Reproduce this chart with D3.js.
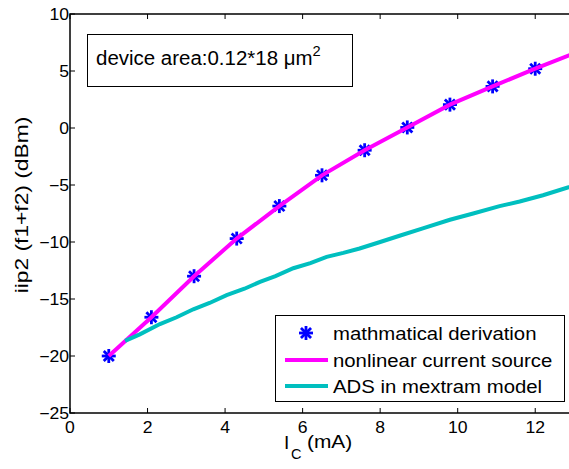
<!DOCTYPE html>
<html>
<head>
<meta charset="utf-8">
<script src="https://cdn.jsdelivr.net/npm/d3@7"></script>
<style>
body{margin:0;background:#fff;}
text{font-family:"Liberation Sans",Arial,sans-serif;fill:#000;}
</style>
</head>
<body>
<div class="chart"></div>
<script>
// data
var derivX = [1, 2.1, 3.2, 4.3, 5.4, 6.5, 7.6, 8.7, 9.8, 10.9, 12.0];
var derivY = [-20, -16.6, -13.0, -9.7, -6.85, -4.15, -1.95, 0.05, 2.05, 3.65, 5.2];
var nlcsX = [1, 2.1, 3.2, 4.3, 5.4, 6.5, 7.6, 8.7, 9.8, 10.9, 12.0, 13.0];
var nlcsY = [-20, -16.6, -13.0, -9.7, -6.85, -4.15, -1.95, 0.05, 2.05, 3.65, 5.2, 6.55];
var adsX = [1.42, 1.8, 2.32, 2.75, 3.18, 3.6, 4.04, 4.5, 4.9, 5.3, 5.76, 6.2, 6.62, 7.05, 7.47, 8.0, 8.5, 9.1, 9.8, 10.4, 11.08, 11.6, 12.2, 12.86, 13.0];
var adsY = [-18.67, -18.1, -17.2, -16.6, -15.9, -15.35, -14.66, -14.1, -13.5, -13.0, -12.3, -11.85, -11.3, -10.95, -10.57, -10.0, -9.45, -8.8, -8.05, -7.5, -6.85, -6.45, -5.9, -5.2, -5.1];
var xTicks = [0, 2, 4, 6, 8, 10, 12];
var yTicks = [-25, -20, -15, -10, -5, 0, 5, 10];
var legendLabels = ["mathmatical derivation", "nonlinear current source", "ADS in mextram model"];

var W = 569, H = 469;
var svg = d3.select("div.chart").append("svg")
    .attr("width", W)
    .attr("height", H);

var x = d3.scaleLinear().domain([0, 13]).range([70, 574]);
var y = d3.scaleLinear().domain([-25, 10]).range([413, 14]);

function minus(v){ return v < 0 ? "\u2212" + Math.abs(v) : "" + v; }

// ticks (inward, on all four sides)
var tl = 5;
svg.append("g").selectAll("line.xt").data(xTicks).enter().append("line")
    .attr("x1", d => x(d)).attr("x2", d => x(d))
    .attr("y1", y(-25)).attr("y2", y(-25) - tl)
    .attr("stroke", "#000").attr("stroke-width", 1);
svg.append("g").selectAll("line.xt2").data(xTicks).enter().append("line")
    .attr("x1", d => x(d)).attr("x2", d => x(d))
    .attr("y1", y(10)).attr("y2", y(10) + tl)
    .attr("stroke", "#000").attr("stroke-width", 1);
svg.append("g").selectAll("line.yt").data(yTicks).enter().append("line")
    .attr("x1", x(0)).attr("x2", x(0) + tl)
    .attr("y1", d => y(d)).attr("y2", d => y(d))
    .attr("stroke", "#000").attr("stroke-width", 1);

svg.append("g").selectAll("text.xl").data(xTicks).enter().append("text")
    .attr("transform", d => "translate(" + x(d) + "," + 433 + ") scale(1.1,1)")
    .attr("text-anchor", "middle")
    .attr("font-size", "16px")
    .text(d => d);
svg.append("g").selectAll("text.yl").data(yTicks).enter().append("text")
    .attr("transform", d => "translate(" + 69 + "," + (y(d) + 6) + ") scale(1.1,1)")
    .attr("text-anchor", "end")
    .attr("font-size", "16px")
    .text(d => minus(d));

// plot lines, clipped to the axes
svg.append("clipPath").attr("id", "clip").append("rect")
    .attr("x", x(0)).attr("y", y(10))
    .attr("width", x(13) - x(0)).attr("height", y(-25) - y(10));
var plot = svg.append("g").attr("clip-path", "url(#clip)");

var line = d3.line().x(d => x(d[0])).y(d => y(d[1]));

function star(g, cx, cy, r){
    var a = r * 0.72;
    var segs = [[-r,0,r,0],[0,-r,0,r],[-a,-a,a,a],[-a,a,a,-a]];
    segs.forEach(function(s){
        g.append("line")
            .attr("x1", cx + s[0]).attr("y1", cy + s[1])
            .attr("x2", cx + s[2]).attr("y2", cy + s[3])
            .attr("stroke", "#0000ff").attr("stroke-width", 2.8);
    });
}
var stars = plot.append("g");
derivX.forEach(function(d, i){ star(stars, x(d), y(derivY[i]), 7); });

plot.append("path")
    .datum(d3.zip(nlcsX, nlcsY))
    .attr("d", line)
    .attr("fill", "none")
    .attr("stroke", "#ff00ff")
    .attr("stroke-width", 4);
plot.append("path")
    .datum(d3.zip(adsX, adsY))
    .attr("d", line)
    .attr("fill", "none")
    .attr("stroke", "#00bfbf")
    .attr("stroke-width", 4);

// axes box
svg.append("rect")
    .attr("x", x(0)).attr("y", y(10))
    .attr("width", x(13) - x(0)).attr("height", y(-25) - y(10))
    .attr("fill", "none").attr("stroke", "#000").attr("stroke-width", 1.5);

// annotation box
svg.append("rect")
    .attr("x", 87.5).attr("y", 34.5).attr("width", 265).attr("height", 52)
    .attr("fill", "#fff").attr("stroke", "#000").attr("stroke-width", 1);
var ann = svg.append("text")
    .attr("transform", "translate(96,65) scale(1.05,1)")
    .attr("font-size", "19.5px");
ann.append("tspan").text("device area:0.12*18 \u03bcm");
ann.append("tspan").attr("dy", -9).attr("font-size", "14px").text("2");

// legend
svg.append("rect")
    .attr("x", 275.5).attr("y", 315.5).attr("width", 289).attr("height", 86)
    .attr("fill", "#fff").attr("stroke", "#000").attr("stroke-width", 1);
var rows = [333, 360, 386];
star(svg, 306, rows[0], 7);
svg.append("line").attr("x1", 285).attr("x2", 328).attr("y1", rows[1]).attr("y2", rows[1])
    .attr("stroke", "#ff00ff").attr("stroke-width", 4);
svg.append("line").attr("x1", 285).attr("x2", 328).attr("y1", rows[2]).attr("y2", rows[2])
    .attr("stroke", "#00bfbf").attr("stroke-width", 4);
svg.append("g").selectAll("text.lg").data(legendLabels).enter().append("text")
    .attr("transform", (d, i) => "translate(333," + (rows[i] + 6.5) + ") scale(1.1,1)")
    .attr("font-size", "18.5px")
    .text(d => d);

// axis labels
svg.append("text")
    .attr("transform", "translate(28,205) rotate(-90) scale(1.2,1)")
    .attr("text-anchor", "middle")
    .attr("font-size", "19px")
    .text("iip2 (f1+f2) (dBm)");

var xl = svg.append("g");
xl.append("text").attr("transform", "translate(284,449)").attr("font-size", "19px").text("I");
xl.append("text").attr("transform", "translate(291,459)").attr("font-size", "14.5px").text("C");
xl.append("text").attr("transform", "translate(307,448) scale(1.1,1)").attr("font-size", "19px").text("(mA)");
</script>
</body>
</html>
